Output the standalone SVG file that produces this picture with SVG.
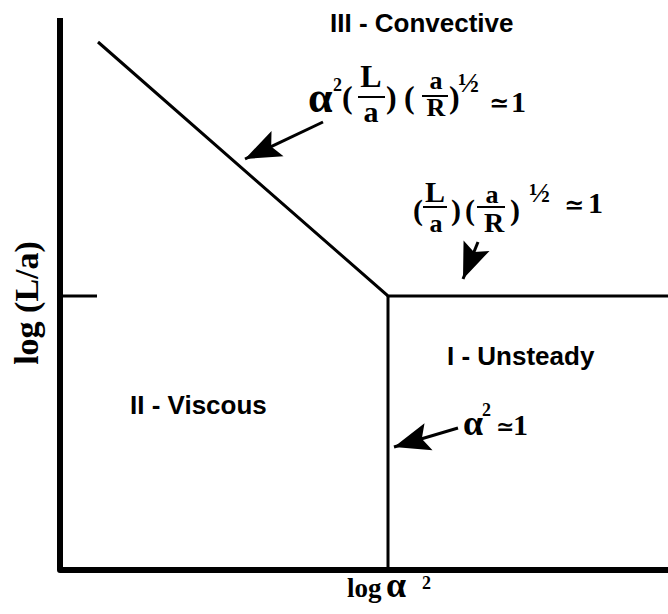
<svg xmlns="http://www.w3.org/2000/svg" width="668" height="614" viewBox="0 0 668 614">
<defs>
<style>
.ax{fill:none;stroke:#000;stroke-linejoin:round;stroke-linecap:butt}
.ln{fill:none;stroke:#000;stroke-width:3}
.lab{font-family:"Liberation Sans",Arial,sans-serif;font-weight:bold;font-size:26px;fill:#000}
.m{font-family:"Liberation Serif","DejaVu Serif",serif;font-weight:bold;fill:#000}
.c{text-anchor:middle}
.bar{stroke:#000;stroke-width:2}
</style>
<marker id="ah" markerUnits="userSpaceOnUse" markerWidth="40" markerHeight="32" viewBox="-38 -16 40 32" refX="0" refY="0" orient="auto">
<path d="M0,0 L-36,-14 L-29,0 L-36,14 Z" fill="#000"/>
</marker>
</defs>
<rect width="668" height="614" fill="#fff"/>

<g id="axes">
<path class="ax" d="M60,18 V570 H668" stroke-width="6"/>
<line class="ln" x1="60" y1="296" x2="97" y2="296"/>
<text class="m" font-size="27" x="347" y="597">log</text>
<text class="m" font-size="36" x="386" y="597">α</text>
<text class="m" font-size="18" x="422" y="589">2</text>
<text class="m c" font-size="34" transform="translate(38,303) rotate(-90)">log (L/a)</text>
</g>

<g id="connectors">
<path class="ln" d="M98,42 L388,296 H668"/>
<path class="ln" d="M388,296 V570"/>
<line class="ln" x1="323" y1="122" x2="245" y2="159" marker-end="url(#ah)"/>
<line class="ln" x1="478" y1="242" x2="463" y2="279" marker-end="url(#ah)"/>
<line class="ln" x1="458" y1="428" x2="394" y2="447" marker-end="url(#ah)"/>
</g>

<g id="region-convective">
<text class="lab" x="330" y="32">III - Convective</text>
</g>
<g id="region-viscous">
<text class="lab" x="130" y="414">II - Viscous</text>
</g>
<g id="region-unsteady">
<text class="lab" x="447" y="365">I - Unsteady</text>
</g>

<g id="formula-diagonal">
<text class="m" font-size="44" x="308" y="112">α</text>
<text class="m" font-size="18" x="333" y="91">2</text>
<text class="m" font-size="32" x="342" y="108">(</text>
<text class="m c" font-size="32" x="371" y="87">L</text>
<line class="bar" x1="358" y1="97" x2="385" y2="97"/>
<text class="m c" font-size="30" x="371" y="122">a</text>
<text class="m" font-size="32" x="386" y="108">)</text>
<text class="m" font-size="32" x="404" y="108">(</text>
<text class="m c" font-size="26" x="436" y="89">a</text>
<line class="bar" x1="422" y1="96" x2="448" y2="96"/>
<text class="m c" font-size="26" x="436" y="116">R</text>
<text class="m" font-size="32" x="449" y="108">)</text>
<text class="m" font-size="28" x="458" y="92">½</text>
<text class="m" font-size="24" x="489" y="111">≃</text>
<text class="m" font-size="30" x="511" y="112">1</text>
</g>

<g id="formula-horizontal">
<text class="m" font-size="30" x="413" y="220">(</text>
<text class="m c" font-size="30" x="435" y="202">L</text>
<line class="bar" x1="423" y1="207" x2="447" y2="207"/>
<text class="m c" font-size="26" x="436" y="232">a</text>
<text class="m" font-size="30" x="451" y="220">)</text>
<text class="m" font-size="30" x="465" y="220">(</text>
<text class="m c" font-size="26" x="492" y="203">a</text>
<line class="bar" x1="477" y1="207" x2="505" y2="207"/>
<text class="m c" font-size="28" x="494" y="232">R</text>
<text class="m" font-size="30" x="510" y="220">)</text>
<text class="m" font-size="28" x="529" y="202">½</text>
<text class="m" font-size="24" x="564" y="213">≃</text>
<text class="m" font-size="30" x="588" y="213">1</text>
</g>

<g id="formula-vertical">
<text class="m" font-size="36" x="463" y="435">α</text>
<text class="m" font-size="18" x="482" y="416">2</text>
<text class="m" font-size="22" x="496" y="434">≃</text>
<text class="m" font-size="30" x="513" y="435">1</text>
</g>
</svg>
